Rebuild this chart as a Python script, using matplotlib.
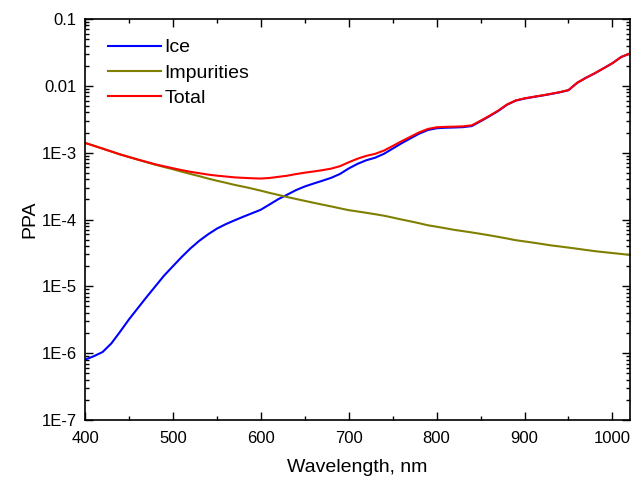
"""
PPA of ice and impurities vs wavelength
"""

import matplotlib
matplotlib.use("Agg")
import matplotlib.pyplot as plt  # type: ignore
from matplotlib.ticker import FixedLocator, FixedFormatter, LogLocator, NullFormatter  # type: ignore

plt.rcParams["font.family"] = ["Liberation Sans", "DejaVu Sans"]

# wavelength grid, nm
wavelength = [
    400, 410, 420, 430, 440, 450, 460, 470, 480, 490,
    500, 510, 520, 530, 540, 550, 560, 570, 580, 590,
    600, 610, 620, 630, 640, 650, 660, 670, 680, 690,
    700, 710, 720, 730, 740, 750, 760, 770, 780, 790,
    800, 810, 820, 830, 840, 850, 860, 870, 880, 890,
    900, 910, 920, 930, 940, 950, 960, 970, 980, 990,
    1000, 1010, 1020,
]

ice = [
    8.0e-7, 9.0e-7, 1.04e-6, 1.4e-6, 2.1e-6, 3.2e-6, 4.7e-6, 6.9e-6, 1.0e-5, 1.45e-5,
    2.0e-5, 2.75e-5, 3.7e-5, 4.8e-5, 6.0e-5, 7.3e-5, 8.5e-5, 9.7e-5, 1.1e-4, 1.24e-4,
    1.4e-4, 1.68e-4, 2.02e-4, 2.35e-4, 2.75e-4, 3.12e-4, 3.45e-4, 3.8e-4, 4.2e-4, 4.8e-4,
    5.8e-4, 6.8e-4, 7.7e-4, 8.4e-4, 9.6e-4, 1.15e-3, 1.38e-3, 1.63e-3, 1.92e-3, 2.18e-3,
    2.32e-3, 2.36e-3, 2.38e-3, 2.41e-3, 2.5e-3, 2.95e-3, 3.5e-3, 4.2e-3, 5.2e-3, 6.0e-3,
    6.45e-3, 6.8e-3, 7.15e-3, 7.55e-3, 8.0e-3, 8.6e-3, 1.11e-2, 1.32e-2, 1.54e-2, 1.83e-2,
    2.18e-2, 2.7e-2, 3.05e-2,
]

impurities = [
    1.40e-3, 1.27e-3, 1.15e-3, 1.04e-3, 9.4e-4, 8.6e-4, 7.85e-4, 7.2e-4, 6.6e-4, 6.1e-4,
    5.65e-4, 5.2e-4, 4.8e-4, 4.45e-4, 4.1e-4, 3.8e-4, 3.55e-4, 3.3e-4, 3.1e-4, 2.9e-4,
    2.7e-4, 2.5e-4, 2.33e-4, 2.17e-4, 2.03e-4, 1.9e-4, 1.78e-4, 1.67e-4, 1.57e-4, 1.47e-4,
    1.38e-4, 1.32e-4, 1.26e-4, 1.2e-4, 1.14e-4, 1.07e-4, 1.0e-4, 9.4e-5, 8.8e-5, 8.2e-5,
    7.8e-5, 7.4e-5, 7.0e-5, 6.7e-5, 6.4e-5, 6.1e-5, 5.8e-5, 5.5e-5, 5.2e-5, 4.9e-5,
    4.7e-5, 4.5e-5, 4.3e-5, 4.1e-5, 3.95e-5, 3.8e-5, 3.65e-5, 3.5e-5, 3.36e-5, 3.25e-5,
    3.15e-5, 3.05e-5, 2.95e-5,
]

total = [
    1.401e-3, 1.271e-3, 1.151e-3, 1.041e-3, 9.42e-4, 8.63e-4, 7.90e-4, 7.27e-4, 6.70e-4, 6.25e-4,
    5.85e-4, 5.48e-4, 5.17e-4, 4.93e-4, 4.70e-4, 4.53e-4, 4.40e-4, 4.27e-4, 4.20e-4, 4.14e-4,
    4.10e-4, 4.18e-4, 4.35e-4, 4.52e-4, 4.78e-4, 5.02e-4, 5.23e-4, 5.47e-4, 5.77e-4, 6.27e-4,
    7.18e-4, 8.12e-4, 8.96e-4, 9.60e-4, 1.074e-3, 1.257e-3, 1.48e-3, 1.724e-3, 2.008e-3, 2.262e-3,
    2.398e-3, 2.434e-3, 2.45e-3, 2.477e-3, 2.564e-3, 3.011e-3, 3.558e-3, 4.255e-3, 5.252e-3, 6.049e-3,
    6.497e-3, 6.845e-3, 7.193e-3, 7.591e-3, 8.04e-3, 8.638e-3, 1.1137e-2, 1.3235e-2, 1.5434e-2, 1.8333e-2,
    2.1832e-2, 2.7031e-2, 3.053e-2,
]

y_ticks = [1e-7, 1e-6, 1e-5, 1e-4, 1e-3, 1e-2, 1e-1]
y_labels = ["1E-7", "1E-6", "1E-5", "1E-4", "1E-3", "0.01", "0.1"]
x_ticks = [400, 500, 600, 700, 800, 900, 1000]

fig = plt.figure(figsize=(6.32, 4.79), dpi=100)
ax = fig.add_axes([85 / 632, 1 - 420 / 479, 545 / 632, 401 / 479])

ax.plot(wavelength, ice, color="#0000ff", linewidth=1.5, label="Ice")
ax.plot(wavelength, impurities, color="#808000", linewidth=1.5, label="Impurities")
ax.plot(wavelength, total, color="#ff0000", linewidth=1.5, label="Total")

ax.set_yscale("log")
ax.set_xlim(400, 1020)
ax.set_ylim(1e-7, 0.1)

ax.yaxis.set_major_locator(FixedLocator(y_ticks))
ax.yaxis.set_major_formatter(FixedFormatter(y_labels))
ax.yaxis.set_minor_locator(LogLocator(base=10, subs=range(2, 10), numticks=20))
ax.yaxis.set_minor_formatter(NullFormatter())
ax.set_xticks(x_ticks)
ax.set_xticks(range(450, 1020, 100), minor=True)

ax.tick_params(which="both", direction="in", top=True, right=True, labelsize=12, width=1)
ax.tick_params(which="major", length=6)
ax.tick_params(which="minor", length=3)
ax.tick_params(axis="x", pad=8)
ax.tick_params(axis="y", pad=6)
for side in ax.spines.values():
    side.set_linewidth(1.2)

ax.set_xlabel("Wavelength, nm", fontsize=14, labelpad=9)
ax.set_ylabel("PPA", fontsize=14, labelpad=2)

ax.legend(loc="upper left", bbox_to_anchor=(0.028, 0.97), frameon=False, fontsize=14,
          handlelength=2.7, handletextpad=0.2, labelspacing=0.4, borderaxespad=0.0)

fig.savefig("out.png", dpi=100)
